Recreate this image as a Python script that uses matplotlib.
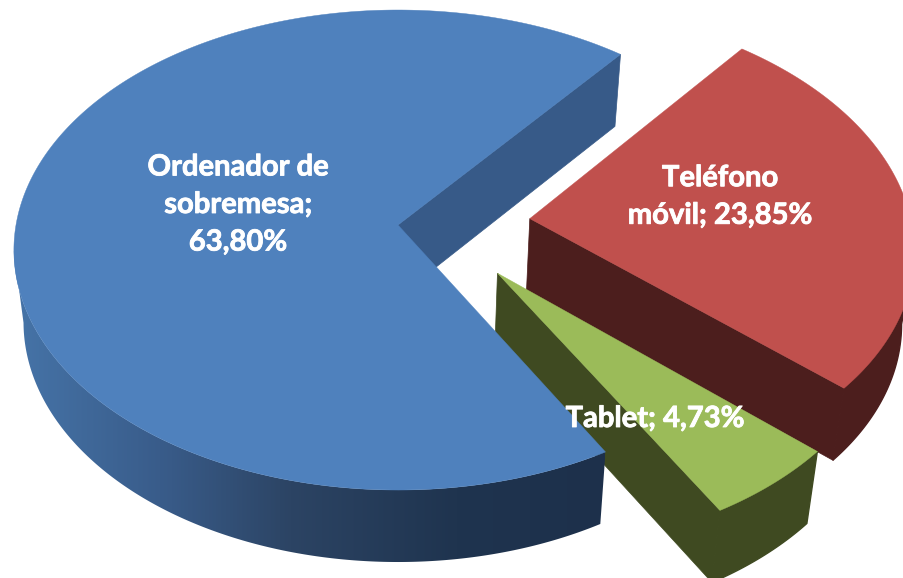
import numpy as np
import matplotlib
matplotlib.use('Agg')
import matplotlib.pyplot as plt
import matplotlib.patheffects as pe
from matplotlib.colors import LinearSegmentedColormap
from matplotlib.patches import Polygon

# Data
labels = ['Ordenador de\nsobremesa;\n63,80%', 'Teléfono\nmóvil; 23,85%', 'Tablet; 4,73%']
values = [63.80, 23.85, 4.73]
top_colors = ['#4F81BD', '#C0504D', '#9BBB59']
face_colors = ['#375A88', '#4C1E1D', '#3F4A21']
offsets = [(0.0, 0.0), (0.346, 0.027), (0.255, -0.199)]
label_pos = [(238, 205), (720, 197), (655, 419)]
start_angle = 150.4

# Perspective of the pie on the page
apex_x, apex_y = 398, 225
a, b, k = 382, 237.4, 0.1042
depth, shrink = 72, 0.975


def project(u, v):
    w = 1 + k * v
    return apex_x + a * u / w, apex_y - b * v / w


def drop(x, y):
    return apex_x + (x - apex_x) * shrink, y + depth


fig = plt.figure(figsize=(9.04, 5.78), dpi=100)
ax = fig.add_axes([0, 0, 1, 1])

blue_side = LinearSegmentedColormap.from_list(
    'side', [(0, '#4674A8'), (0.25, '#395C8A'), (0.47, '#2C4464'), (0.75, '#1F344F'), (1, '#1D304B')])

total = sum(values)
angle = start_angle
slices = []
for val, off in zip(values, offsets):
    sweep = val / total * 360
    slices.append((angle, angle + sweep, off))
    angle += sweep

for order, i in enumerate([1, 2, 0]):
    z = 10 * (order + 1)
    t0, t1, off = slices[i]
    th = np.radians(np.linspace(t0, t1, 481))
    x, y = project(off[0] + np.sin(th), off[1] + np.cos(th))
    cx, cy = project(off[0], off[1])
    xb, yb = drop(x, y)
    cxb, cyb = drop(cx, cy)

    # outer rim, only the front part where x runs leftwards
    front = np.where(np.gradient(x) < 0)[0]
    m0, m1 = front[0], front[-1] + 1
    rim_x = np.r_[x[m0:m1], xb[m0:m1][::-1]]
    rim_y = np.r_[y[m0:m1], yb[m0:m1][::-1]]
    if i == 0:
        rim = Polygon(np.c_[rim_x, rim_y], closed=True, facecolor='none', edgecolor='none', zorder=z)
        ax.add_patch(rim)
        grad = ax.imshow(np.linspace(0, 1, 400)[None, :], cmap=blue_side, aspect='auto',
                         extent=(12, 605, 578, 0), zorder=z)
        grad.set_clip_path(rim)
    else:
        ax.fill(rim_x, rim_y, color=face_colors[i], lw=1, zorder=z)

    # cut face at the end of the slice, the only one that shows
    ax.fill([cx, x[-1], xb[-1], cxb], [cy, y[-1], yb[-1], cyb], color=face_colors[i], lw=0.5, zorder=z + 1)

    # top
    ax.fill(np.r_[cx, x], np.r_[cy, y], color=top_colors[i], lw=0.3, zorder=z + 2)

for lab, (tx, ty) in zip(labels, label_pos):
    ax.text(tx, ty, lab, color='white', fontsize=21, fontweight='bold', family='Lato',
            ha='center', va='center', linespacing=1.55, zorder=100,
            path_effects=[pe.withStroke(linewidth=0.6, foreground='white')])

ax.set_xlim(0, 904)
ax.set_ylim(578, 0)
ax.axis('off')

fig.savefig('out.png', dpi=100)
